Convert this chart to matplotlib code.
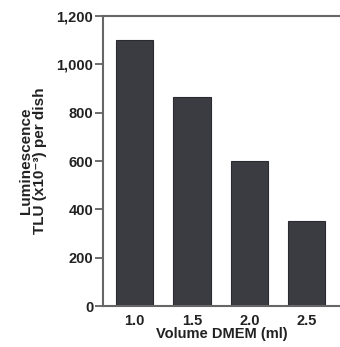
import matplotlib.pyplot as plt

volumes = ['1.0', '1.5', '2.0', '2.5']
luminescence = [1100, 865, 600, 350]

plt.rcParams['font.family'] = ['Liberation Sans', 'DejaVu Sans']

fig = plt.figure(figsize=(3.4, 3.47), dpi=100)
ax = fig.add_axes([0.303, 0.118, 0.70, 0.836])

x = range(len(volumes))
ax.bar(x, luminescence, width=0.65, color='#3b3b42', edgecolor='#2a2a30', linewidth=0.8)

ax.set_xlim(-0.55, 3.6)
ax.set_ylim(0, 1200)
ax.set_xticks(list(x))
ax.set_xticklabels(volumes, fontsize=10.5, fontweight='bold', color='#222222')
ax.set_yticks(range(0, 1201, 200))
ax.set_yticklabels(['0', '200', '400', '600', '800', '1,000', '1,200'],
                   fontsize=10.5, fontweight='bold', color='#222222')
ax.tick_params(axis='x', length=0, pad=6)
ax.tick_params(axis='y', length=6, width=1.2, color='#555555', pad=1)

for s in ['left', 'top', 'bottom']:
    ax.spines[s].set_color('#666666')
    ax.spines[s].set_linewidth(1.5)
ax.spines['right'].set_visible(False)

ax.set_xlabel('Volume DMEM (ml)', fontsize=10.5, fontweight='bold', color='#222222', labelpad=-1)
ax.set_ylabel('Luminescence\nTLU (x10\u207b\u00b3) per dish', fontsize=11, fontweight='bold',
              color='#222222', labelpad=7, linespacing=1.0)

fig.savefig('out.png', dpi=100)
